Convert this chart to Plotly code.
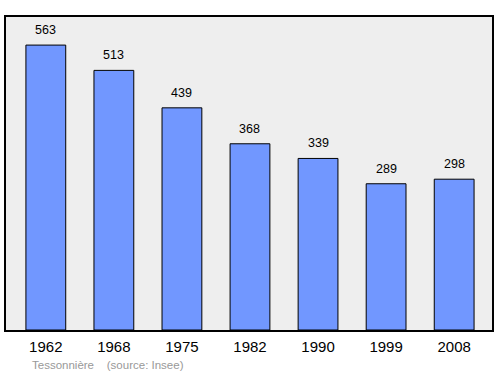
import plotly.graph_objects as go

years = ["1962", "1968", "1975", "1982", "1990", "1999", "2008"]
population = [563, 513, 439, 368, 339, 289, 298]
positions = list(range(len(years)))

fig = go.Figure()
fig.add_trace(go.Bar(
    x=positions, y=population, width=0.585,
    marker=dict(color="#7197FF", line=dict(color="#000000", width=1)),
    hoverinfo="skip",
))
for p, v in zip(positions, population):
    fig.add_annotation(
        x=p, y=v, xref="x", yref="y", text=str(v), showarrow=False,
        yanchor="bottom", yshift=6,
        font=dict(family="Liberation Sans, Arial", size=12.5, color="#000000"),
    )
fig.update_layout(
    width=500, height=374,
    margin=dict(l=6, r=6, t=17, b=44),
    paper_bgcolor="#FFFFFF", plot_bgcolor="#EEEEEE",
    showlegend=False,
)
fig.update_xaxes(
    range=[-0.585, 6.556], tickvals=positions, ticktext=years,
    tickfont=dict(family="Liberation Sans, Arial", size=15, color="#000000"),
    showgrid=False, zeroline=False, showline=True, mirror=True,
    linecolor="#000000", linewidth=1.5, ticks="", ticklabelstandoff=2,
)
fig.update_yaxes(
    range=[0, 618.5], showticklabels=False, showgrid=False, zeroline=False,
    showline=True, mirror=True, linecolor="#000000", linewidth=1.5, ticks="",
)
fig.add_annotation(
    x=(30 - 6) / 488, y=-(365 - 330) / 313, xref="paper", yref="paper",
    text="Tessonnière    (source: Insee)",
    showarrow=False, xanchor="left", yanchor="middle",
    font=dict(family="Liberation Sans, Arial", size=11.5, color="#999999"),
)
fig.write_html("out.html")
